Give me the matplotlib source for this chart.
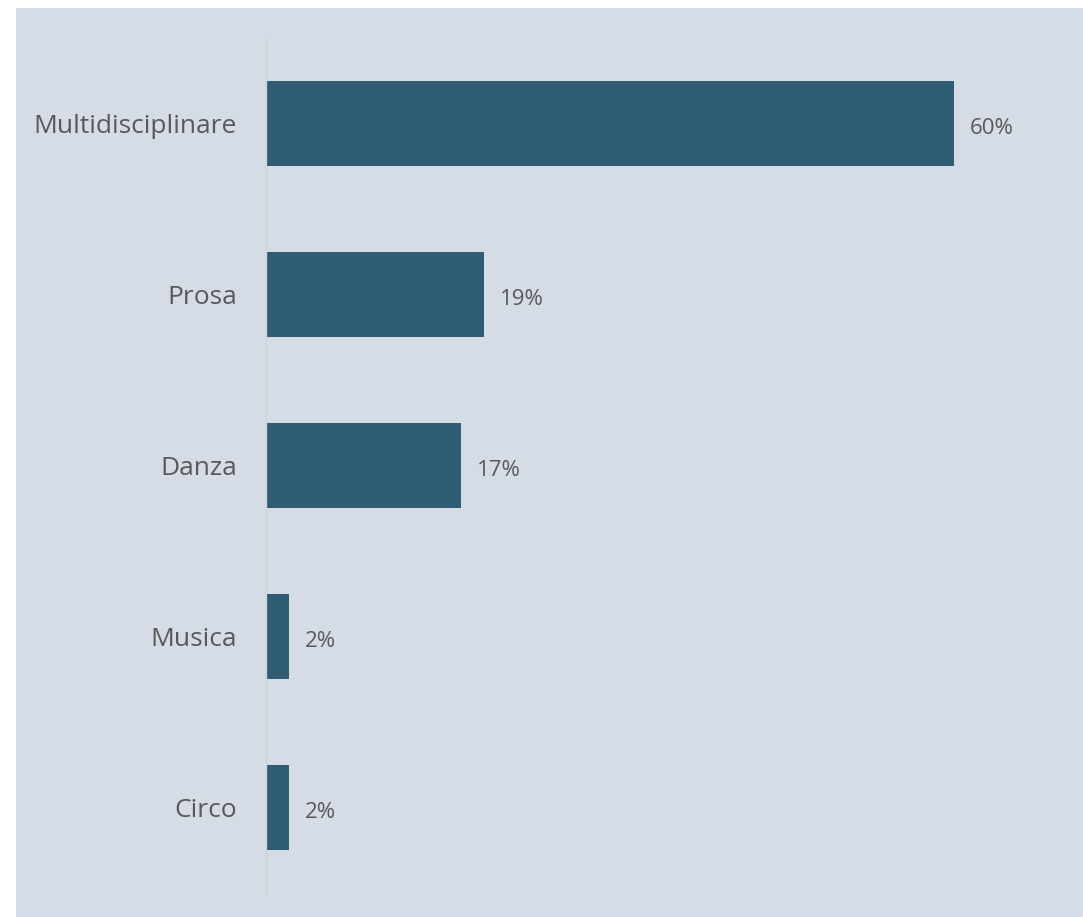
import matplotlib.pyplot as plt
from matplotlib.patches import Rectangle

categories = ['Multidisciplinare', 'Prosa', 'Danza', 'Musica', 'Circo']
shares = [60, 19, 17, 2, 2]

bg = '#d5dce6'
bar_color = '#2e5c72'
text_color = '#595959'

plt.rcParams['font.family'] = ['Open Sans', 'DejaVu Sans']

W, H = 1083, 917
fig = plt.figure(figsize=(W / 100, H / 100), dpi=100)
fig.patch.set_facecolor('white')
# shaded panel behind the chart
fig.patches.append(Rectangle((16 / W, 0), 1 - 16 / W, 1 - 8 / H,
                             transform=fig.transFigure, facecolor=bg,
                             edgecolor='none', zorder=-10))

# axes in pixel terms: left at 266, top at 38, bottom at 893
ax = fig.add_axes([266 / W, (H - 893) / H, (1060 - 266) / W, (893 - 38) / H])
ax.set_facecolor('none')

y = range(len(categories))
ax.barh(y, shares, height=0.5, color=bar_color, zorder=2)
ax.set_ylim(len(categories) - 0.5, -0.5)
ax.set_xlim(0, (1060 - 266) / (688 / 60))

for yi, v in zip(y, shares):
    ax.annotate(f'{v}%', (v, yi), xytext=(16, -5), textcoords='offset pixels',
                va='center', ha='left', fontsize=16, color=text_color)

ax.set_yticks(list(y))
ax.set_yticklabels(categories, fontsize=19, color=text_color)
ax.tick_params(axis='y', length=0, pad=21)
ax.set_xticks([])
for side in ['top', 'right', 'bottom']:
    ax.spines[side].set_visible(False)
ax.spines['left'].set_color('#cdd1d8')
ax.spines['left'].set_linewidth(1)

fig.savefig('out.png', dpi=100)
